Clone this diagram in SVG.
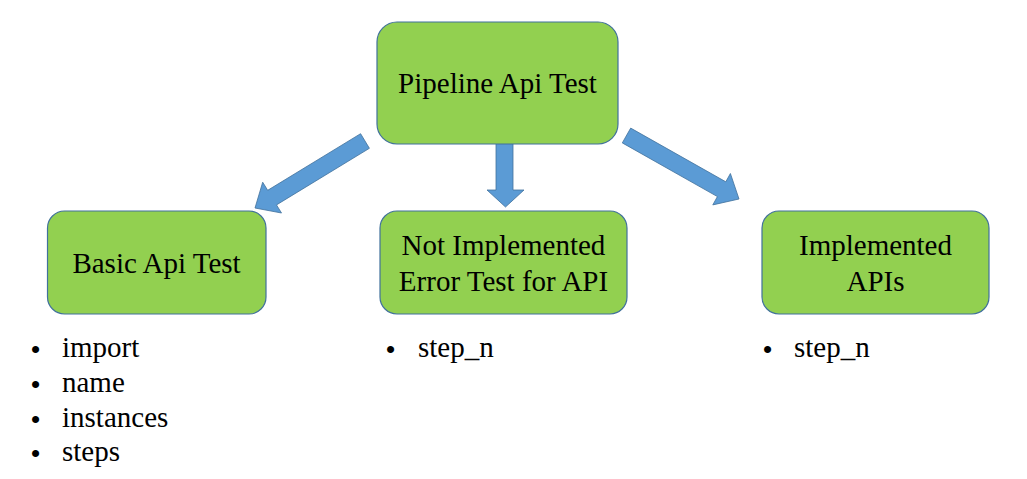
<svg xmlns="http://www.w3.org/2000/svg" width="1027" height="479" viewBox="0 0 1027 479">
<style>
.box{fill:#92D050;stroke:#41719C;stroke-width:1.2}
.arr{fill:#5B9BD5;stroke:#41719C;stroke-width:0.8}
.t{font-size:29px;fill:#000}
.c{text-anchor:middle}
.b{font-size:26px;fill:#000}
</style>
<rect width="1027" height="479" fill="#fff"/>
<g id="connectors">
<polygon class="arr" points="360.6,133.7 267.7,190.3 262.7,182.2 255,208 281.5,213 276.5,204.9 369.4,148.3"/>
<polygon class="arr" points="496,139 513,139 513,190 524,190 505.5,207 487,190 496,190"/>
<polygon class="arr" points="630.7,128.1 725.8,181.8 730.4,173.5 739,199 712.8,204.9 717.4,196.6 622.3,142.9"/>
</g>
<g font-family="Liberation Serif, DejaVu Serif, serif">
<g id="pipeline">
<rect class="box" x="377" y="22" width="241" height="122" rx="20"/>
<text class="t c" x="497.5" y="93">Pipeline Api Test</text>
</g>
<g id="basic">
<rect class="box" x="47.5" y="211" width="218.5" height="103" rx="17"/>
<text class="t c" x="156.5" y="273">Basic Api Test</text>
</g>
<g id="notimpl">
<rect class="box" x="380" y="211" width="247" height="103" rx="17"/>
<text class="t c" x="503.5" y="255">Not Implemented</text>
<text class="t c" x="503.5" y="291">Error Test for API</text>
</g>
<g id="impl">
<rect class="box" x="762" y="211" width="227" height="103" rx="17"/>
<text class="t c" x="875.5" y="255">Implemented</text>
<text class="t c" x="875.5" y="291">APIs</text>
</g>
<g id="list-basic">
<text class="b" font-family="Liberation Sans, sans-serif" x="31" y="358">•</text><text class="t" x="62" y="357">import</text>
<text class="b" font-family="Liberation Sans, sans-serif" x="31" y="393">•</text><text class="t" x="62" y="392">name</text>
<text class="b" font-family="Liberation Sans, sans-serif" x="31" y="428">•</text><text class="t" x="62" y="427">instances</text>
<text class="b" font-family="Liberation Sans, sans-serif" x="31" y="462">•</text><text class="t" x="62" y="461">steps</text>
</g>
<g id="list-notimpl">
<text class="b" font-family="Liberation Sans, sans-serif" x="386" y="358">•</text><text class="t" x="418" y="357">step_n</text>
</g>
<g id="list-impl">
<text class="b" font-family="Liberation Sans, sans-serif" x="763" y="358">•</text><text class="t" x="794" y="357">step_n</text>
</g>
</g>
</svg>
